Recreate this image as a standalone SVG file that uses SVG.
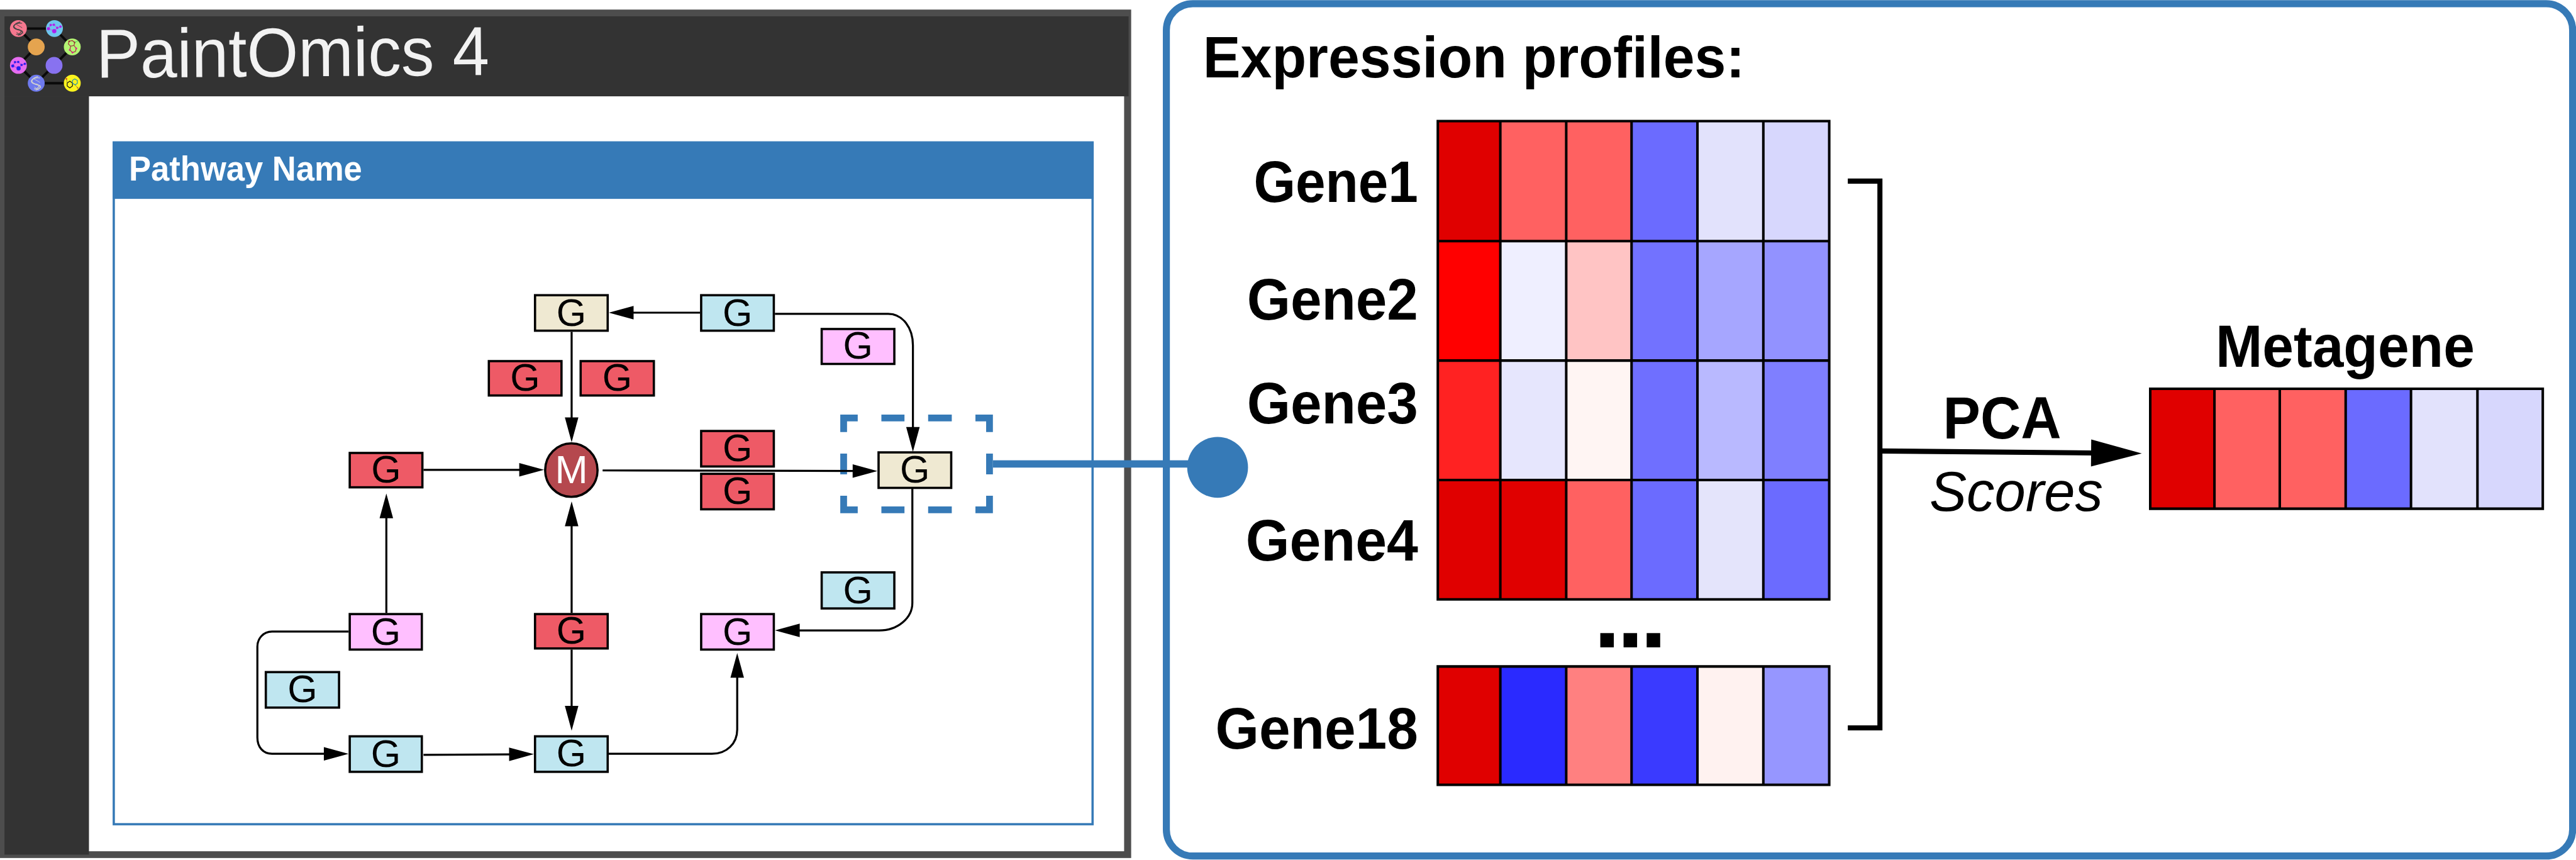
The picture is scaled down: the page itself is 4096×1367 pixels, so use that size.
<svg xmlns="http://www.w3.org/2000/svg" width="4096" height="1367" viewBox="0 0 4096 1367">
<style>
text{font-family:"Liberation Sans",Arial,sans-serif}
.b{font-weight:bold;fill:#000}
.g{font-size:68px;text-anchor:middle;fill:#000}
.n{stroke:#000;stroke-width:4}
.beige{fill:#efe9d2}.blue{fill:#bfe6f0}.red{fill:#ee5a66}.pink{fill:#ffbfff}
.c{fill:none;stroke:#000;stroke-width:3.6;marker-end:url(#ah)}
.pb{fill:#367ab7}
.grid{fill:none;stroke:#000;stroke-width:4.5}
.lk{stroke:#0a0a0a;stroke-width:13;fill:none}
</style>
<defs>
<marker id="ah" markerUnits="userSpaceOnUse" markerWidth="50" markerHeight="30" refX="0" refY="15" orient="auto" overflow="visible"><path d="M-1 3L43 15L-1 27Z" fill="#000"/></marker>
<marker id="big" markerUnits="userSpaceOnUse" markerWidth="100" markerHeight="60" refX="0" refY="30" orient="auto" overflow="visible"><path d="M-1 6L89 30L-1 54Z" fill="#000"/></marker>
<g id="dna"><path d="M108 57C82 62 66 80 80 92C92 102 125 100 120 112C116 122 104 126 95 128" fill="none" stroke-width="5"/><path d="M118 64C92 62 70 70 72 84C76 100 110 92 112 106C112 118 96 124 86 122" fill="none" stroke-width="4"/><path d="M84 68L118 88M70 80L96 100M102 96L124 118M88 112L110 128" fill="none" stroke-width="3"/></g>
<g id="mol"><path d="M258 93L270 73L287 72L305 88L322 82M305 88L289 106L258 93" fill="none" stroke-width="3" stroke-opacity=".7"/><circle cx="258" cy="93" r="8"/><circle cx="270" cy="73" r="6"/><circle cx="287" cy="72" r="6"/><circle cx="305" cy="88" r="6"/><circle cx="322" cy="82" r="6"/><circle cx="289" cy="106" r="11"/></g>
</defs>
<rect width="4096" height="1367" fill="#fff"/>
<g transform="scale(.8955)">
<g id="app-frame">
<rect x="0" y="17" width="2008.5" height="1506" fill="#4d4d4d"/>
<rect x="8" y="29" width="1996" height="142" fill="#333"/>
<rect x="8" y="171" width="150" height="1346" fill="#333"/>
<rect x="158" y="171" width="1838" height="1340" fill="#fff"/>
<text transform="translate(171 138) rotate(-.4)" font-size="123" fill="#f2f2f2" textLength="698" lengthAdjust="spacingAndGlyphs">PaintOmics 4</text>
</g>
<g id="logo" transform="translate(0 20) scale(.33333)">
<path class="lk" d="M98 92H290L385 190L288 288L193 383H385M193 383L98 288L193 190L98 92"/>
<circle cx="98" cy="92" r="45" fill="#f6788f"/><circle cx="290" cy="92" r="45" fill="#6ec6ee"/><circle cx="385" cy="190" r="45" fill="#b5f574"/><circle cx="193" cy="190" r="45" fill="#e5a44f"/><circle cx="288" cy="288" r="45" fill="#8872f0"/><circle cx="98" cy="288" r="45" fill="#e66cf0"/><circle cx="193" cy="383" r="45" fill="#6e7aee"/><circle cx="385" cy="383" r="45" fill="#fdf41e"/>
<use href="#dna" stroke="#444"/>
<use href="#dna" stroke="#d0d0d0" transform="translate(95 291)"/>
<use href="#mol" fill="#a820f0" stroke="#e020d0"/>
<use href="#mol" fill="#2020f0" stroke="#8020e0" transform="translate(-190 198)"/>
<path d="M368 160L385 156L398 166L394 182L376 186L364 174ZM376 186L372 206L386 220L402 214L406 198L394 182" fill="none" stroke="#a03040" stroke-width="4"/>
<circle cx="368" cy="160" r="4" fill="#a02020"/><circle cx="398" cy="166" r="4" fill="#a02020"/><circle cx="372" cy="206" r="5" fill="#e0208f"/><circle cx="386" cy="220" r="5" fill="#e0208f"/><circle cx="406" cy="198" r="5" fill="#e0208f"/><path d="M398 166L414 160" stroke="#30d060" stroke-width="3"/>
<path d="M358 382L372 372L386 382V398L372 408L358 398Z" fill="none" stroke="#111" stroke-width="4"/>
<path d="M386 382V368L398 360L412 368V384L400 392L386 382" fill="none" stroke="#2090b0" stroke-width="4"/>
<circle cx="354" cy="360" r="4" fill="#e02020"/><circle cx="414" cy="408" r="4" fill="#e07020"/><path d="M354 360L358 382M400 392L414 408" stroke="#555" stroke-width="2"/>
</g>
<g id="pathway-panel">
<rect x="202" y="253" width="1738" height="1210" fill="#fff" stroke="#367ab7" stroke-width="4"/>
<rect x="200" y="251" width="1742" height="102" fill="#367ab7"/>
<text x="229" y="321" font-size="61" font-weight="bold" fill="#fff" textLength="414" lengthAdjust="spacingAndGlyphs">Pathway Name</text>
</g>
<g id="selection" class="pb">
<path d="M1492 736H1523V748H1504V767H1492ZM1565 736H1606V748H1565ZM1648 736H1690V748H1648ZM1732 736H1763V767H1751V748H1732ZM1492 805H1504V842H1492ZM1751 805H1763V842H1751ZM1492 880H1504V899H1523V911H1492ZM1565 899H1606V911H1565ZM1648 899H1690V911H1648ZM1751 880H1763V911H1732V899H1751Z"/>
</g>
<g id="connectors">
<path class="c" d="M1243 555H1124"/>
<path class="c" d="M1015 589V742"/>
<path class="c" d="M752 834H923"/>
<path class="c" d="M1070 835L1515 836"/>
<path class="c" d="M1376 557H1577C1603 557 1621 582 1621 613V759"/>
<path class="c" d="M1620 863V1070C1620 1097 1594 1119 1561 1119H1419"/>
<path class="c" d="M686 1088V919"/>
<path class="c" d="M1015 1088V933"/>
<path class="c" d="M1015 1153V1254"/>
<path class="c" d="M1075 1338H1264C1290 1338 1309 1320 1309 1295V1202"/>
<path class="c" d="M619 1121H483C467 1121 457 1134 457 1148V1309C457 1326 467 1338 483 1338H576"/>
<path class="c" d="M752 1340L905 1339"/>
</g>
<g id="g-top-beige"><rect class="n beige" x="950" y="524" width="129" height="63"/><text class="g" x="1014.5" y="578">G</text></g>
<g id="g-top-blue"><rect class="n blue" x="1245" y="524" width="129" height="63"/><text class="g" x="1309.5" y="578">G</text></g>
<g id="g-top-pink"><rect class="n pink" x="1459" y="584" width="129" height="62"/><text class="g" x="1523.5" y="637">G</text></g>
<g id="g-red-a"><rect class="n red" x="868" y="641" width="129" height="61"/><text class="g" x="932.5" y="693">G</text></g>
<g id="g-red-b"><rect class="n red" x="1031" y="641" width="130" height="61"/><text class="g" x="1096" y="693">G</text></g>
<g id="g-red-left"><rect class="n red" x="621" y="804" width="129" height="61"/><text class="g" x="685.5" y="856">G</text></g>
<g id="m-node"><ellipse cx="1014.5" cy="834.5" rx="46.5" ry="47.5" fill="#b5484e" stroke="#000" stroke-width="4"/><text x="1014.5" y="858" font-size="70" text-anchor="middle" fill="#fff">M</text></g>
<g id="g-red-c"><rect class="n red" x="1245" y="765" width="129" height="63"/><text class="g" x="1309.5" y="819">G</text></g>
<g id="g-red-d"><rect class="n red" x="1245" y="841" width="129" height="63"/><text class="g" x="1309.5" y="895">G</text></g>
<g id="g-target"><rect class="n beige" x="1560" y="803" width="129" height="63"/><text class="g" x="1624.5" y="857">G</text></g>
<g id="g-blue-r"><rect class="n blue" x="1459" y="1016" width="129" height="64"/><text class="g" x="1523.5" y="1071">G</text></g>
<g id="g-pink-left"><rect class="n pink" x="621" y="1090" width="128" height="63"/><text class="g" x="685" y="1145">G</text></g>
<g id="g-red-low"><rect class="n red" x="950" y="1090" width="129" height="61"/><text class="g" x="1014.5" y="1142">G</text></g>
<g id="g-pink-right"><rect class="n pink" x="1245" y="1090" width="129" height="63"/><text class="g" x="1309.5" y="1145">G</text></g>
<g id="g-blue-legend"><rect class="n blue" x="472" y="1193" width="130" height="63"/><text class="g" x="537" y="1246">G</text></g>
<g id="g-blue-bl"><rect class="n blue" x="621" y="1307" width="128" height="63"/><text class="g" x="685" y="1361">G</text></g>
<g id="g-blue-bm"><rect class="n blue" x="950" y="1307" width="129" height="63"/><text class="g" x="1014.5" y="1360">G</text></g>
<g id="expression-panel"><rect x="2071" y="6.5" width="2497" height="1513" rx="47" ry="47" fill="none" stroke="#367ab7" stroke-width="12.5"/></g>
<g id="link" class="pb"><rect x="1763" y="817" width="350" height="13"/><circle cx="2162" cy="829.5" r="54"/></g>
<text class="b" x="2136" y="137" font-size="103" textLength="962" lengthAdjust="spacingAndGlyphs">Expression profiles:</text>
<g id="gene-labels" font-size="103">
<text class="b" x="2226" y="358" textLength="292" lengthAdjust="spacingAndGlyphs">Gene1</text>
<text class="b" x="2214" y="567" textLength="304" lengthAdjust="spacingAndGlyphs">Gene2</text>
<text class="b" x="2214" y="752" textLength="304" lengthAdjust="spacingAndGlyphs">Gene3</text>
<text class="b" x="2212" y="995" textLength="306" lengthAdjust="spacingAndGlyphs">Gene4</text>
<text class="b" x="2158" y="1329" textLength="360" lengthAdjust="spacingAndGlyphs">Gene18</text>
</g>
<g id="heatmap">
<rect x="2553" y="215" width="111" height="213" fill="#e00000"/><rect x="2664" y="215" width="117" height="213" fill="#ff6161"/><rect x="2781" y="215" width="116" height="213" fill="#ff6161"/><rect x="2897" y="215" width="117" height="213" fill="#6b6bff"/><rect x="3014" y="215" width="117" height="213" fill="#e2e2fc"/><rect x="3131" y="215" width="117" height="213" fill="#d7d7fd"/>
<rect x="2553" y="428" width="111" height="212" fill="#ff0000"/><rect x="2664" y="428" width="117" height="212" fill="#efefff"/><rect x="2781" y="428" width="116" height="212" fill="#ffc4c4"/><rect x="2897" y="428" width="117" height="212" fill="#7272ff"/><rect x="3014" y="428" width="117" height="212" fill="#a6a6ff"/><rect x="3131" y="428" width="117" height="212" fill="#9292ff"/>
<rect x="2553" y="640" width="111" height="212" fill="#ff2222"/><rect x="2664" y="640" width="117" height="212" fill="#e6e6fd"/><rect x="2781" y="640" width="116" height="212" fill="#fff5f3"/><rect x="2897" y="640" width="117" height="212" fill="#6f6fff"/><rect x="3014" y="640" width="117" height="212" fill="#b9b9ff"/><rect x="3131" y="640" width="117" height="212" fill="#7f7fff"/>
<rect x="2553" y="852" width="111" height="212" fill="#e00000"/><rect x="2664" y="852" width="117" height="212" fill="#e00000"/><rect x="2781" y="852" width="116" height="212" fill="#ff6161"/><rect x="2897" y="852" width="117" height="212" fill="#6b6bff"/><rect x="3014" y="852" width="117" height="212" fill="#e4e4fb"/><rect x="3131" y="852" width="117" height="212" fill="#6b6bff"/>
<path class="grid" d="M2553 215H3248V1064H2553ZM2664 215V1064M2781 215V1064M2897 215V1064M3014 215V1064M3131 215V1064M2553 428H3248M2553 640H3248M2553 852H3248"/>
</g>
<text class="b" x="2830" y="1149" font-size="170" letter-spacing="-6">...</text>
<g id="heatmap-18">
<rect x="2553" y="1183" width="111" height="210" fill="#e00000"/><rect x="2664" y="1183" width="117" height="210" fill="#2a2aff"/><rect x="2781" y="1183" width="116" height="210" fill="#ff8080"/><rect x="2897" y="1183" width="117" height="210" fill="#3a3aff"/><rect x="3014" y="1183" width="117" height="210" fill="#fff2f0"/><rect x="3131" y="1183" width="117" height="210" fill="#9696ff"/>
<path class="grid" d="M2553 1183H3248V1393H2553ZM2664 1183V1393M2781 1183V1393M2897 1183V1393M3014 1183V1393M3131 1183V1393"/>
</g>
<g id="pca-connectors">
<path d="M3281 321.5H3338V1292H3281" fill="none" stroke="#000" stroke-width="9"/>
<path d="M3341 800.5L3714 804" fill="none" stroke="#000" stroke-width="9" marker-end="url(#big)"/>
</g>
<text class="b" x="3450" y="778" font-size="105" textLength="210" lengthAdjust="spacingAndGlyphs">PCA</text>
<text x="3426" y="907" font-size="100" font-style="italic" fill="#000" textLength="308" lengthAdjust="spacingAndGlyphs">Scores</text>
<text class="b" x="3934" y="651" font-size="105" textLength="460" lengthAdjust="spacingAndGlyphs">Metagene</text>
<g id="metagene">
<rect x="3818" y="690" width="114" height="213" fill="#e00000"/><rect x="3932" y="690" width="116" height="213" fill="#ff6161"/><rect x="4048" y="690" width="117" height="213" fill="#ff6161"/><rect x="4165" y="690" width="116" height="213" fill="#6b6bff"/><rect x="4281" y="690" width="118" height="213" fill="#e2e2fc"/><rect x="4399" y="690" width="116" height="213" fill="#d7d7fd"/>
<path class="grid" d="M3818 690H4515V903H3818ZM3932 690V903M4048 690V903M4165 690V903M4281 690V903M4399 690V903"/>
</g>
</g>
</svg>
